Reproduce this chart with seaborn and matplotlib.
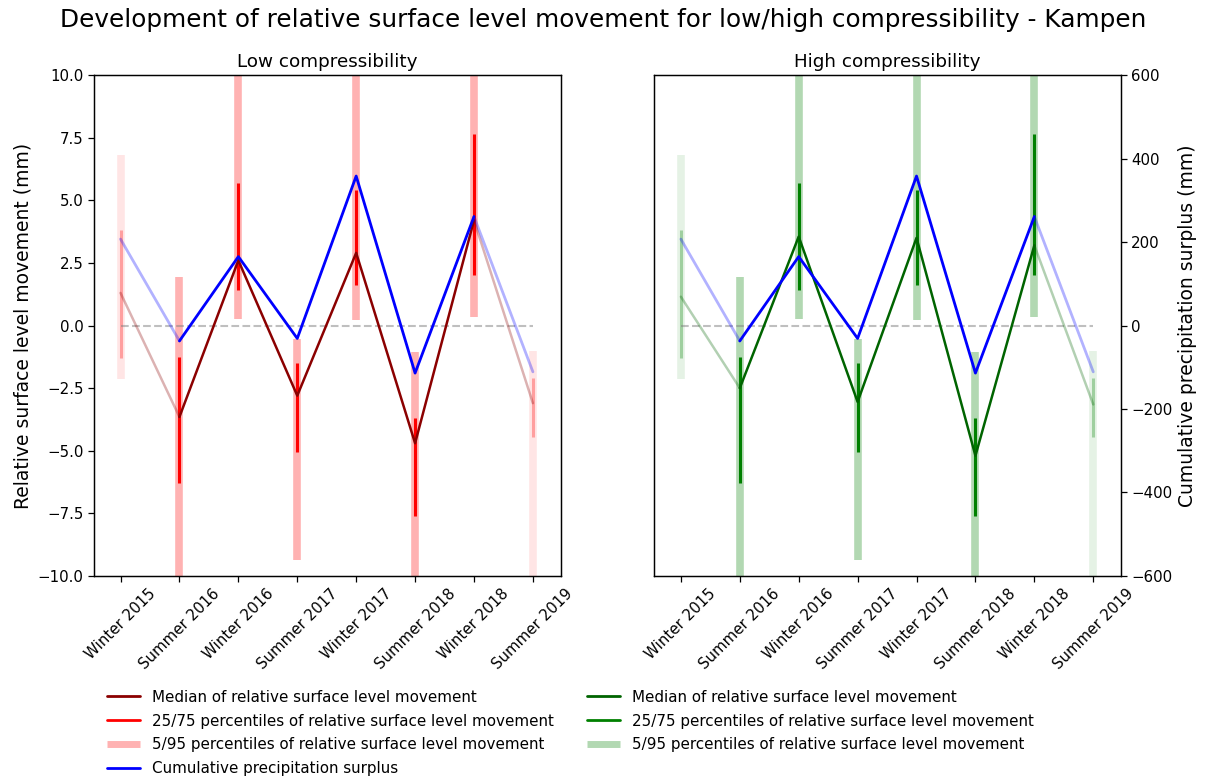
import numpy as np
import matplotlib.pyplot as plt
import seaborn as sns
from matplotlib.lines import Line2D

# Data
seasons = ['Winter 2015', 'Summer 2016', 'Winter 2016', 'Summer 2017',
           'Winter 2017', 'Summer 2018', 'Winter 2018', 'Summer 2019']

median_low = [1.3, -3.65, 2.6, -2.8, 2.9, -4.7, 4.2, -3.1]
median_high = [1.15, -2.5, 3.55, -3.05, 3.5, -5.2, 3.2, -3.15]

# percentiles (same in both panels)
p25 = [-1.3, -6.3, 1.4, -5.05, 1.6, -7.6, 2.0, -4.45]
p75 = [3.8, -1.25, 5.7, -1.5, 5.4, -3.7, 7.65, -2.1]
p5 = [-2.15, -12.0, 0.25, -9.35, 0.2, -12.0, 0.35, -12.0]
p95 = [6.8, 1.95, 12.0, -0.55, 12.0, -1.05, 12.0, -1.0]

# cumulative precipitation surplus (mm)
precip = [207, -37, 165, -31, 358, -114, 261, -111]

sns.set_theme(style='ticks', rc={'axes.edgecolor': 'black', 'axes.linewidth': 0.9,
                                 'text.color': 'black', 'axes.labelcolor': 'black',
                                 'xtick.color': 'black', 'ytick.color': 'black',
                                 'xtick.major.size': 4, 'ytick.major.size': 4,
                                 'xtick.major.width': 0.9, 'ytick.major.width': 0.9,
                                 'xtick.labelsize': 10.8, 'ytick.labelsize': 10.8,
                                 'axes.labelsize': 13.5, 'axes.titlesize': 13.2})

fig, axes = plt.subplots(1, 2, figsize=(12.07, 7.79), dpi=100)
fig.subplots_adjust(left=0.0779, right=0.9287, bottom=0.2606, top=0.9037, wspace=0.201)

pos = np.arange(len(seasons))
faded = [0, len(seasons) - 1]


def draw_panel(ax, median, dark, mid, title):
    for i in pos:
        a_out = 0.1 if i in faded else 0.3
        a_in = 0.3 if i in faded else 1.0
        ax.vlines(i, p5[i], p95[i], color=mid, alpha=a_out, lw=5.5)
        ax.vlines(i, p25[i], p75[i], color=mid, alpha=a_in, lw=2.2)
    ax.hlines(0, pos[0], pos[-1], colors='grey', linestyles='--', alpha=0.5, lw=1.5)

    sns.lineplot(x=pos[1:7], y=median[1:7], ax=ax, color=dark, lw=1.8)
    sns.lineplot(x=pos[:2], y=median[:2], ax=ax, color=dark, lw=1.8, alpha=0.3)
    sns.lineplot(x=pos[6:], y=median[6:], ax=ax, color=dark, lw=1.8, alpha=0.3)

    ax2 = ax.twinx()
    sns.lineplot(x=pos[1:7], y=precip[1:7], ax=ax2, color='blue', lw=2)
    sns.lineplot(x=pos[:2], y=precip[:2], ax=ax2, color='blue', lw=2, alpha=0.3)
    sns.lineplot(x=pos[6:], y=precip[6:], ax=ax2, color='blue', lw=2, alpha=0.3)

    ax.set_ylim(-10, 10)
    ax2.set_ylim(-600, 600)
    ax.set_xlim(-0.45, 7.47)
    ax.set_xticks(pos)
    ax.set_xticklabels(seasons, rotation=45)
    ax.set_title(title)
    ax.set_xlabel('')
    ax2.set_xlabel('')
    return ax2


ax_low = axes[0]
ax_high = axes[1]
tw_low = draw_panel(ax_low, median_low, 'darkred', 'red', 'Low compressibility')
tw_high = draw_panel(ax_high, median_high, 'darkgreen', 'green', 'High compressibility')

ax_low.set_ylabel('Relative surface level movement (mm)')
tw_low.tick_params(axis='y', right=False, labelright=False)
tw_low.set_ylabel('')
ax_high.tick_params(axis='y', left=False, labelleft=False)
ax_high.set_ylabel('')
tw_high.set_ylabel('Cumulative precipitation surplus (mm)')

lbl = 'of relative surface level movement'
h_low = [Line2D([], [], color='darkred', lw=2),
         Line2D([], [], color='red', lw=2),
         Line2D([], [], color='red', alpha=0.3, lw=5, solid_capstyle='butt'),
         Line2D([], [], color='blue', lw=2)]
h_high = [Line2D([], [], color='darkgreen', lw=2),
          Line2D([], [], color='green', lw=2),
          Line2D([], [], color='green', alpha=0.3, lw=5, solid_capstyle='butt')]
names = ['Median ' + lbl, '25/75 percentiles ' + lbl, '5/95 percentiles ' + lbl]

fig.legend(h_low, names + ['Cumulative precipitation surplus'], loc='upper left',
           bbox_to_anchor=(0.0774, 0.132), frameon=False, fontsize=10.9,
           handlelength=2.2, labelspacing=0.58)
fig.legend(h_high, names, loc='upper left',
           bbox_to_anchor=(0.475, 0.132), frameon=False, fontsize=10.9,
           handlelength=2.2, labelspacing=0.58)

fig.suptitle('Development of relative surface level movement for low/high compressibility - Kampen',
             fontsize=17.8, y=0.99)

fig.savefig('out.png', dpi=100)
